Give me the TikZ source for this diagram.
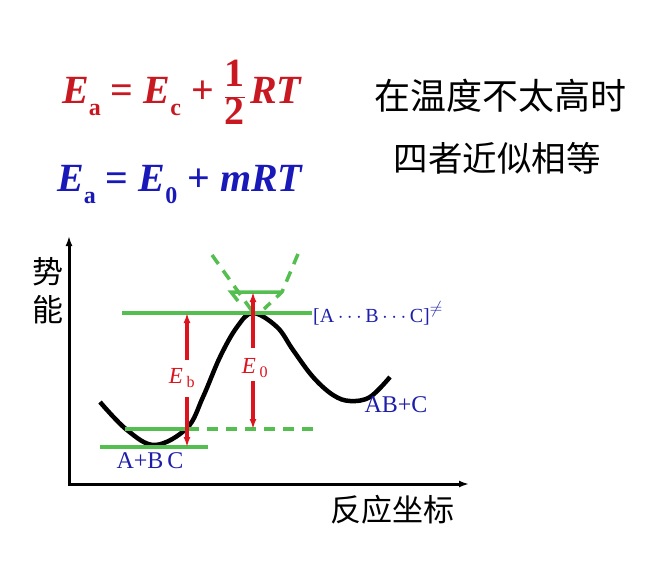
\documentclass[tikz,border=0pt]{standalone}
\usepackage{fontspec}
\setmainfont{Liberation Serif}
\newfontfamily\cjk{Noto Sans CJK SC}
\usetikzlibrary{arrows.meta}

\definecolor{eqred}{RGB}{200,25,35}
\definecolor{eqblue}{RGB}{25,25,185}
\definecolor{lvlgreen}{RGB}{85,190,80}
\definecolor{lblblue}{RGB}{30,30,170}
\definecolor{arrred}{RGB}{220,20,30}

% bold upright subscript and spaced operator for the big formulas
\newcommand\sbs[1]{\raisebox{-0.3em}{\fontsize{24}{24}\selectfont\bfseries\upshape #1}}
\newcommand\eqop[1]{\hspace{10pt}{\upshape #1}\hspace{10pt}}

\tikzset{
  formula/.style={font=\fontsize{40}{44}\selectfont\bfseries\itshape, inner sep=0pt},
  cjktext/.style={font=\cjk\fontsize{36}{40}\selectfont, inner sep=0pt},
  axis/.style={line width=3pt, {Latex[length=10pt,width=7pt]}-{Latex[length=10pt,width=7pt]}},
  level/.style={lvlgreen, line width=3.5pt},
  dlevel/.style={level, dash pattern=on 11pt off 8pt},
  gap/.style={arrred, line width=3.2pt, -{Latex[length=10pt,width=7pt]}},
  species/.style={lblblue, font=\fontsize{24}{26}\selectfont, inner sep=1pt},
  elabel/.style={arrred, font=\fontsize{23}{25}\selectfont, inner sep=1pt},
}

\begin{document}
\begin{tikzpicture}[x=1pt,y=-1pt]
  \useasboundingbox (0,0) rectangle (664,560);

  % formulas and remark
  \node[formula, eqred, anchor=base west] (eqc) at (62,103)
    {E\sbs{a}\eqop{=}E\sbs{c}\eqop{+}%
     $\displaystyle\frac{\hbox{\upshape 1}}{\hbox{\upshape 2}}$\hspace{4pt}RT};
  \node[formula, eqblue, anchor=base west] (eqz) at (57,191)
    {E\sbs{a}\eqop{=}E\sbs{0}\eqop{+}mRT};
  \node[cjktext] (cond1) at (500,96) {在温度不太高时};
  \node[cjktext, font=\cjk\fontsize{34.5}{38}\selectfont] (cond2) at (497,158) {四者近似相等};

  % axes
  \coordinate (ytip) at (69,236);
  \coordinate (orig) at (69,484);
  \coordinate (xtip) at (469,484);
  \draw[axis] (ytip) -- (orig) -- (xtip);
  \node[font=\cjk\fontsize{31}{38}\selectfont, align=center, inner sep=0pt] (ylab) at (48,291) {势\\能};
  \node[font=\cjk\fontsize{31}{36}\selectfont, inner sep=0pt] (xlab) at (392,510) {反应坐标};

  % potential energy curve
  \draw[line width=4.5pt] plot[smooth, tension=0.6] coordinates {
    (100,402) (127,430) (155,445) (187,428) (203,397) (220,357) (237,327)
    (253,313) (277,327) (293,350) (313,377) (333,395) (350,401) (370,397) (390,377)};

  % energy levels
  \node[species, font=\fontsize{20}{22}\selectfont, anchor=west] (ts) at (312,313)
    {{[}A$\,\cdots\,$B$\,\cdots\,$C{]}\raisebox{0.45em}{\fontsize{17}{17}\selectfont$\neq$}};
  \node[species] (react) at (150,461) {A+B\,C};
  \node[species] (prod) at (396,405) {AB+C};
  \draw[level] (122,313) -- (ts.west);
  \draw[level] (100,447) -- (208,447);
  \draw[level] (125,429) -- (188,429);
  \draw[dlevel] (188,429) -- (313,429);
  \draw[level] (238,301) -- (231,292) -- (282,292);
  \draw[dlevel] (212,255) -- (252,311);
  \draw[dlevel] (298,254) -- (282,292) -- (264,309);

  % barriers
  \node[elabel] (eb) at (182,378) {\textit{E}\,\textsubscript{b}};
  \node[elabel] (ez) at (255,368) {\textit{E}\,\textsubscript{0}};
  \coordinate (ebtop) at (187,313);
  \coordinate (ebbot) at (187,447);
  \coordinate (eztop) at (253,292);
  \coordinate (ezbot) at (253,429);
  \draw[gap] (187,360) -- (ebtop);
  \draw[gap] (187,397) -- (ebbot);
  \draw[gap] (253,348) -- (eztop);
  \draw[gap] (253,381) -- (ezbot);
\end{tikzpicture}
\end{document}
